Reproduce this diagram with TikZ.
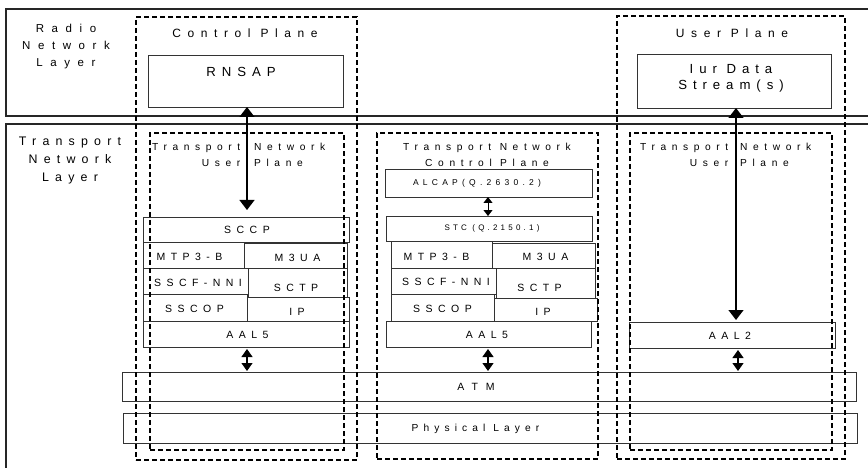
\documentclass[tikz,border=0pt]{standalone}
\usepackage{fontspec}
\setmainfont{Liberation Sans}
\newfontfamily\lsa[LetterSpace=50]{Liberation Sans}
\newfontfamily\lsb[LetterSpace=55]{Liberation Sans}
\newfontfamily\lsc[LetterSpace=52]{Liberation Sans}
\newfontfamily\lsd[LetterSpace=45]{Liberation Sans}
\newfontfamily\lse[LetterSpace=40]{Liberation Sans}
\newfontfamily\lsf[LetterSpace=75]{Liberation Sans}
\newfontfamily\lsg[LetterSpace=66]{Liberation Sans}
\usetikzlibrary{arrows.meta}
\newcommand\bx[6]{\node[#1, minimum width={(#5-#3)*1pt}, minimum height={(#6-#4)*1pt}] (#2) at (#3,#4) {};}
\tikzset{
  lay/.style={draw=black!85, line width=1.3pt, inner sep=0pt, outer sep=0pt, anchor=north west},
  pbox/.style={draw=black!80, line width=0.9pt, inner sep=0pt, outer sep=0pt, anchor=north west},
  dbox/.style={draw=black, line width=1.4pt, dash pattern=on 5pt off 3pt, inner sep=0pt, outer sep=0pt, anchor=north west},
  tlay/.style={font=\lsa\fontsize{12.4}{18}\selectfont, inner sep=0pt, align=center},
  trad/.style={font=\lsg\fontsize{11.5}{17}\selectfont, inner sep=0pt, align=center},
  tplane/.style={font=\lsb\fontsize{12}{17}\selectfont, inner sep=0pt, align=center},
  tproto/.style={font=\lsd\fontsize{13.2}{16}\selectfont, inner sep=0pt, align=center},
  ttn/.style={font=\lsb\fontsize{10.2}{15.5}\selectfont, inner sep=0pt},
  tbox/.style={font=\lsc\fontsize{10.5}{12}\selectfont, inner sep=0pt},
  tsm/.style={font=\lsa\fontsize{8.5}{10}\selectfont, inner sep=0pt},
  tstc/.style={font=\lse\fontsize{8}{10}\selectfont, inner sep=0pt},
  tphy/.style={font=\lsa\fontsize{10.2}{12}\selectfont, inner sep=0pt},
  tatm/.style={font=\lsf\fontsize{10.5}{12}\selectfont, inner sep=0pt},
  bigarr/.style={{Triangle[length=10pt,width=15pt]}-{Triangle[length=10pt,width=15pt]}, line width=1.2pt},
  smallarr/.style={{Triangle[length=8pt,width=11pt]}-{Triangle[length=8pt,width=11pt]}, line width=1.2pt},
  tinyarr/.style={{Triangle[length=6pt,width=9pt]}-{Triangle[length=6pt,width=9pt]}, line width=1pt},
}
\begin{document}
\begin{tikzpicture}[x=1pt, y=-1pt]
\useasboundingbox (0,0) rectangle (868,468);
\clip (0,0) rectangle (868,468);
% layers
\bx{lay}{rnl}{6}{9}{900}{116}
\bx{lay}{tnl}{6}{124}{900}{520}
\node[trad] (rnlT) at (66,47) {Radio\\Network\\Layer};
\node[tlay] (tnlT) at (70,161) {Transport\\Network\\Layer};
% top boxes
\bx{pbox}{rnsap}{148}{55}{343}{107}
\node[tproto] (rnsapT) at (241,72) {RNSAP};
\bx{pbox}{iur}{637}{54}{831}{108}
\node[tproto] (iurT) at (731,78) {Iur Data\\Stream(s)};
\node[tplane] (cpT) at (245,33) {Control Plane};
\node[tplane] (upT) at (732,33) {User Plane};
% left stack
\bx{pbox}{sccp}{143}{217}{349}{242}
\bx{pbox}{mtpa}{143}{242}{244}{268}
\bx{pbox}{muaa}{244}{243}{347}{268}
\bx{pbox}{sscfa}{143}{268}{248}{294}
\bx{pbox}{sctpa}{248}{268}{347}{297}
\bx{pbox}{sscopa}{143}{294}{247}{321}
\bx{pbox}{ipa}{247}{297}{349}{321}
\bx{pbox}{aalfa}{143}{321}{349}{347}
\node[tbox] (sccpT) at (247,229.5) {SCCP};
\node[tbox] (mtpaT) at (189.5,256.5) {MTP3-B};
\node[tbox] (muaaT) at (297.5,257.5) {M3UA};
\node[tbox] (sscfaT) at (198,282.5) {SSCF-NNI};
\node[tbox] (sctpaT) at (296,288) {SCTP};
\node[tbox] (sscopaT) at (194.5,309) {SSCOP};
\node[tbox] (ipaT) at (297,311.5) {IP};
\node[tbox] (aalfaT) at (247.5,334.5) {AAL5};
% center stack
\bx{pbox}{alcap}{385}{169}{592}{197}
\bx{pbox}{stc}{386}{216}{592}{241}
\bx{pbox}{mtpb}{391}{241}{492}{268}
\bx{pbox}{muab}{492}{243}{595}{268}
\bx{pbox}{sscfb}{391}{268}{496}{294}
\bx{pbox}{sctpb}{496}{268}{595}{298}
\bx{pbox}{sscopb}{391}{294}{494}{321}
\bx{pbox}{ipb}{494}{298}{597}{321}
\bx{pbox}{aalfb}{386}{321}{591}{347}
\node[tsm] (alcapT) at (477,183) {ALCAP(Q.2630.2)};
\node[tstc] (stcT) at (492,228.5) {STC (Q.2150.1)};
\node[tbox] (mtpbT) at (436.5,256.5) {MTP3-B};
\node[tbox] (muabT) at (545.5,257) {M3UA};
\node[tbox] (sscfbT) at (446,282) {SSCF-NNI};
\node[tbox] (sctpbT) at (539.5,287.5) {SCTP};
\node[tbox] (sscopbT) at (442.5,309) {SSCOP};
\node[tbox] (ipbT) at (543,312) {IP};
\node[tbox] (aalfbT) at (487,334.5) {AAL5};
% right stack
\bx{pbox}{aal2}{629}{322}{835}{348}
\node[tbox] (aal2T) at (730,335.5) {AAL2};
% ATM / physical
\bx{pbox}{atm}{122}{372}{856}{401}
\bx{pbox}{phy}{123}{413}{857}{443}
\node[tatm] (atmT) at (476,387) {ATM};
\node[tphy] (phyT) at (475.5,428.5) {Physical Layer};
% plane titles
\node[ttn, anchor=east, align=right] (tnuaL) at (240.5,155) {Transport\\User};
\node[ttn, anchor=west, align=left] (tnuaR) at (254,155) {Network\\Plane};
\node[ttn, align=center] (tncpT) at (487,155) {Transport Network\\Control Plane};
\node[ttn, anchor=east, align=right] (tnubL) at (728.5,155) {Transport\\User};
\node[ttn, anchor=west, align=left] (tnubR) at (740,155) {Network\\Plane};
% dashed planes
\bx{dbox}{cp}{136}{17}{357}{460}
\bx{dbox}{tnua}{150}{133}{344}{450}
\bx{dbox}{tncp}{377}{133}{598}{459}
\bx{dbox}{up}{617}{16}{845}{459}
\bx{dbox}{tnub}{630}{133}{832}{450}
% arrows
\coordinate (xl) at (247,0);
\coordinate (xc) at (488,0);
\coordinate (xr) at (736,0);
\coordinate (xr2) at (738,0);
\draw[bigarr, shorten >=7pt] (rnsap.south -| xl) -- (sccp.north -| xl);
\draw[bigarr, shorten >=2pt] (iur.south -| xr) -- (aal2.north -| xr);
\draw[tinyarr] (alcap.south -| xc) -- (stc.north -| xc);
\draw[smallarr, shorten <=2pt, shorten >=1pt] (aalfa.south -| xl) -- (atm.north -| xl);
\draw[smallarr, shorten <=2pt, shorten >=1pt] (aalfb.south -| xc) -- (atm.north -| xc);
\draw[smallarr, shorten <=2pt, shorten >=1pt] (aal2.south -| xr2) -- (atm.north -| xr2);
\end{tikzpicture}
\end{document}
